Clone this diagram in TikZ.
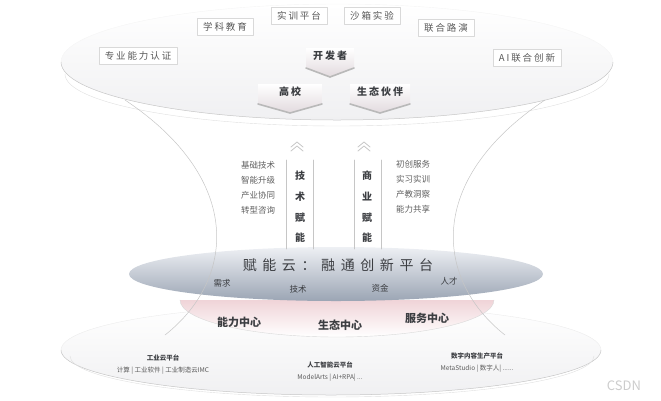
\documentclass[tikz,border=0pt]{standalone}
\usepackage{fontspec}
\setmainfont{Noto Sans CJK SC}
\newfontfamily\spaced[LetterSpace=20]{Noto Sans CJK SC}
\newfontfamily\widespaced[LetterSpace=40]{Noto Sans CJK SC}
\definecolor{dishgray}{RGB}{240,240,242}
\definecolor{chevfill}{RGB}{226,218,222}
\definecolor{cloudtop}{RGB}{238,240,244}
\definecolor{cloudmid}{RGB}{205,211,220}
\definecolor{cloudbot}{RGB}{155,165,180}
\definecolor{bandpink}{RGB}{240,212,216}
\definecolor{textdark}{RGB}{60,62,66}

\begin{document}
\begin{tikzpicture}[line cap=round,line join=round,x=1pt,y=-1pt,
    tag/.style={draw=gray!30, fill=white, inner xsep=6pt, inner ysep=4pt, font=\spaced\fontsize{9.5}{11}\selectfont, text=gray!70!black},
    chevtext/.style={font=\spaced\bfseries\fontsize{10}{12}\selectfont, text=textdark},
    chevline/.style={draw=gray!55, line width=1.6pt},
    vline/.style={draw=gray!45, line width=0.8pt},
    vtext/.style={font=\bfseries\fontsize{10}{12}\selectfont, text=textdark},
    item/.style={font=\fontsize{8.5}{10}\selectfont, text=gray!75!black},
    edge/.style={draw=gray!45, line width=0.5pt},
    small/.style={font=\fontsize{8.5}{10}\selectfont, text=textdark},
    center/.style={font=\bfseries\fontsize{11}{13}\selectfont, text=textdark},
    plat/.style={font=\bfseries\fontsize{6.5}{8}\selectfont, text=textdark},
    platsub/.style={font=\fontsize{6.5}{8}\selectfont, text=gray!70!black}]
    \useasboundingbox (0,0) rectangle (661,400);

    % top dish
    \shade[top color=white, bottom color=dishgray] (337,62) ellipse [x radius=276pt, y radius=58pt];
    \draw[gray!8] (61,62) arc[start angle=180, end angle=0, x radius=276pt, y radius=58pt];
    \draw[edge] (61,62) arc[start angle=180, end angle=360, x radius=276pt, y radius=58pt];
    \draw[gray!25] (65,74) arc[start angle=180, end angle=360, x radius=272pt, y radius=52pt];

    \node[tag] (edu) at (225,27) {学科教育};
    \node[tag] (train) at (299,16) {实训平台};
    \node[tag] (sandbox) at (372,16) {沙箱实验};
    \node[tag] (roadshow) at (446,28) {联合路演};
    \node[tag] (cert) at (138,56) {专业能力认证};
    \node[tag] (aiinno) at (527,58) {AI联合创新};

    \foreach \cx/\cy/\hw/\txt/\nm in {330/56/24/开发者/dev, 290/92/32/高校/uni, 380/92/30/生态伙伴/eco}{
        \shade[top color=white, bottom color=chevfill] (\cx-\hw,\cy-8) -- (\cx+\hw,\cy-8) -- (\cx+\hw,\cy+12) -- (\cx,\cy+21) -- (\cx-\hw,\cy+12) -- cycle;
        \draw[chevline] (\cx-\hw,\cy+12) -- (\cx,\cy+21) -- (\cx+\hw,\cy+12);
        \node[chevtext] (\nm) at (\cx,\cy) {\txt};
    }

    % bottom dish
    \shade[top color=white, bottom color=dishgray] (331,350) ellipse [x radius=270pt, y radius=45pt];
    \draw[gray!15] (61,350) arc[start angle=180, end angle=0, x radius=270pt, y radius=45pt];
    \draw[edge] (61,350) arc[start angle=180, end angle=360, x radius=270pt, y radius=45pt];
    \draw[gray!25] (70,356) arc[start angle=180, end angle=360, x radius=262pt, y radius=41pt];

    % pink band
    \shade[top color=bandpink, bottom color=white] (180,300) arc[start angle=180, end angle=360, x radius=157pt, y radius=37pt] -- cycle;
    \draw[gray!30] (180,300) arc[start angle=180, end angle=360, x radius=157pt, y radius=37pt];

    % cloud platform
    \shade[top color=cloudtop, middle color=cloudmid, bottom color=cloudbot] (336,274) ellipse [x radius=207pt, y radius=27pt];

    % hourglass sides
    \draw[edge] (125,100) .. controls (245,180) and (235,280) .. (165,335);
    \draw[edge] (545,100) .. controls (425,180) and (435,280) .. (505,335);

    \foreach \ux in {297,364}{
        \draw[gray!45, line width=0.8pt] (\ux-6,147) -- (\ux,142) -- (\ux+6,147);
        \draw[gray!45, line width=0.8pt] (\ux-6,151) -- (\ux,146) -- (\ux+6,151);
    }
    \draw[vline] (286,160) -- (286,249);
    \draw[vline] (313,160) -- (313,249);
    \draw[vline] (354,160) -- (354,249);
    \draw[vline] (381,160) -- (381,249);

    \node[vtext] (t1) at (300,176) {技};
    \node[vtext] (t2) at (300,197) {术};
    \node[vtext] (t3) at (300,218) {赋};
    \node[vtext] (t4) at (300,238) {能};
    \node[vtext] (b1) at (367,176) {商};
    \node[vtext] (b2) at (367,197) {业};
    \node[vtext] (b3) at (367,218) {赋};
    \node[vtext] (b4) at (367,238) {能};

    \node[item] (base) at (258,165) {基础技术};
    \node[item] (smart) at (258,180) {智能升级};
    \node[item] (coop) at (258,195) {产业协同};
    \node[item] (consult) at (258,210) {转型咨询};
    \node[item] (startup) at (413,164) {初创服务};
    \node[item] (intern) at (413,179) {实习实训};
    \node[item] (insight) at (413,194) {产教洞察};
    \node[item] (share) at (413,209) {能力共享};

    \node[font=\widespaced\fontsize{14}{16}\selectfont, text=textdark] (cloud) at (338,265) {赋能云：融通创新平台};
    \node[small] (demand) at (222,283) {需求};
    \node[small] (tech) at (298,289) {技术};
    \node[small] (fund) at (380,288) {资金};
    \node[small] (talent) at (449,281) {人才};

    \node[center] (ability) at (239,322) {能力中心};
    \node[center] (ecocenter) at (340,325) {生态中心};
    \node[center] (service) at (427,318) {服务中心};

    \node[plat] (indcloud) at (163,358) {工业云平台};
    \node[platsub] (indsub) at (163,371) {计算 | 工业软件 | 工业制造云IMC};
    \node[plat] (aicloud) at (330,365) {人工智能云平台};
    \node[platsub] (aisub) at (330,378) {ModelArts | AI+RPA| ...};
    \node[plat] (content) at (477,356) {数字内容生产平台};
    \node[platsub] (contentsub) at (477,369) {MetaStudio | 数字人| ......};

    \node[font=\fontsize{13}{15}\selectfont, text=gray!40] (mark) at (624,386) {CSDN};
\end{tikzpicture}
\end{document}
